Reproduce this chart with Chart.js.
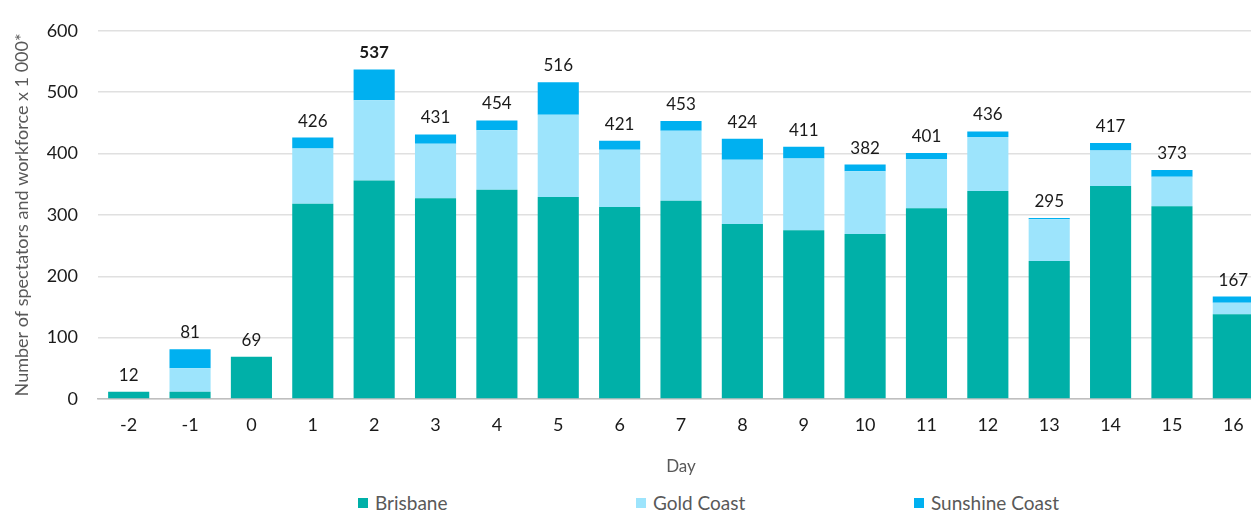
<!DOCTYPE html>
<html>
<head>
<meta charset="utf-8">
<script src="https://cdn.jsdelivr.net/npm/chart.js@4"></script>
<style>
  html, body { margin: 0; padding: 0; background: #fff; overflow: hidden; }
  #wrap { width: 1264px; height: 481px; }
  #legend { display: flex; padding-left: 358px; margin-top: 10px; font: 19px Lato, "Open Sans", sans-serif; color: #595959; }
  #legend .item { width: 278px; display: flex; align-items: center; }
  #legend .sw { width: 10px; height: 10px; margin-right: 7px; }
</style>
</head>
<body>
<div id="wrap"><canvas id="c"></canvas></div>
<div id="legend"></div>
<script>
// Days of the Games, and thousands of spectators + workforce per host city
const days = ['-2', '-1', '0', '1', '2', '3', '4', '5', '6', '7', '8', '9', '10', '11', '12', '13', '14', '15', '16'];
const brisbane = [12, 12, 69, 318, 356, 327, 341, 329, 313, 323, 285, 275, 269, 311, 339, 225, 347, 314, 138];
const goldCoast = [0, 38, 0, 90, 131, 89, 97, 134, 93, 114, 105, 117, 102, 80, 88, 68, 58, 48, 19];
const sunshineCoast = [0, 31, 0, 18, 50, 15, 16, 53, 15, 16, 34, 19, 11, 10, 9, 2, 12, 11, 10];
const boldDay = '2';

const FONT = 'Lato, "Open Sans", sans-serif';

// draws the stack total above each bar
const totalsPlugin = {
  id: 'totals',
  afterDatasetsDraw(chart) {
    const ctx = chart.ctx;
    const yScale = chart.scales.y;
    const xScale = chart.scales.x;
    ctx.save();
    ctx.textAlign = 'center';
    ctx.textBaseline = 'bottom';
    ctx.fillStyle = '#1a1a1a';
    days.forEach((d, i) => {
      const total = brisbane[i] + goldCoast[i] + sunshineCoast[i];
      const x = xScale.getPixelForValue(i);
      const y = yScale.getPixelForValue(total);
      ctx.font = (d === boldDay ? 'bold ' : '') + '17px ' + FONT;
      ctx.fillText(String(total), x, y - 8);
    });
    ctx.restore();
  }
};

const barOpts = { borderWidth: 0, categoryPercentage: 1, barPercentage: 0.67 };

const chart = new Chart(document.getElementById('c'), {
  type: 'bar',
  data: {
    labels: days,
    datasets: [
      { label: 'Brisbane', data: brisbane, backgroundColor: '#00B0A8', ...barOpts },
      { label: 'Gold Coast', data: goldCoast, backgroundColor: '#9DE4FC', ...barOpts },
      { label: 'Sunshine Coast', data: sunshineCoast, backgroundColor: '#00B0F0', ...barOpts }
    ]
  },
  options: {
    responsive: true,
    maintainAspectRatio: false,
    animation: false,
    layout: { padding: { top: 7, left: 11, right: 0, bottom: 0 } },
    plugins: {
      tooltip: { enabled: false },
      legend: { display: false }
    },
    scales: {
      x: {
        stacked: true,
        grid: { display: false, drawTicks: false },
        border: { color: '#bfbfbf', width: 1.5 },
        ticks: { font: { family: FONT, size: 18 }, color: '#1a1a1a', padding: 15 },
        title: { display: true, text: 'Day', font: { family: FONT, size: 17 }, color: '#595959', padding: { top: 1 } },
        afterFit(s) { s.height = 82; }
      },
      y: {
        stacked: true,
        min: 0,
        max: 600,
        ticks: { stepSize: 100, font: { family: FONT, size: 18 }, color: '#1a1a1a', padding: 20 },
        grid: { color: '#e0e0e0', lineWidth: 1.5, drawTicks: false },
        border: { display: false },
        title: {
          display: true,
          text: 'Number of spectators and workforce x 1 000*',
          font: { family: FONT, size: 18 },
          color: '#595959',
          padding: 0
        },
        afterFit(s) { s.width = 87; }
      }
    }
  },
  plugins: [totalsPlugin]
});

// legend built from the chart's datasets
const legend = document.getElementById('legend');
chart.data.datasets.forEach(ds => {
  const item = document.createElement('div');
  item.className = 'item';
  const sw = document.createElement('span');
  sw.className = 'sw';
  sw.style.background = ds.backgroundColor;
  item.appendChild(sw);
  item.appendChild(document.createTextNode(ds.label));
  legend.appendChild(item);
});
</script>
</body>
</html>
